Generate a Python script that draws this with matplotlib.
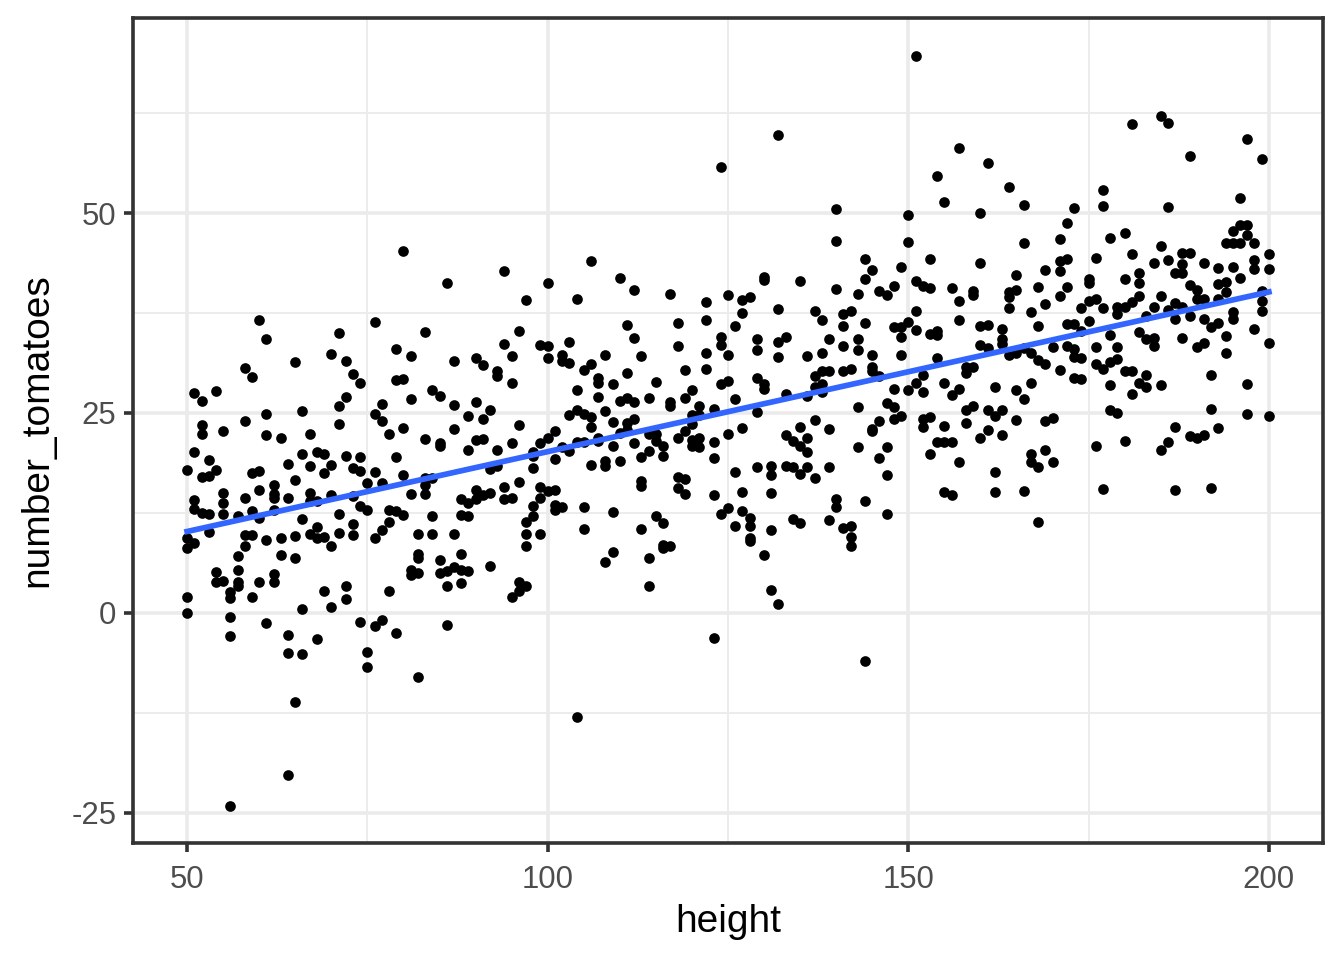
import numpy as np
import matplotlib
matplotlib.use("Agg")
import matplotlib.pyplot as plt
from matplotlib.ticker import MultipleLocator

plt.rcParams['font.family'] = ['Liberation Sans', 'DejaVu Sans']

# values
height = [
    60, 61, 71, 70, 72, 73, 74, 65, 58, 59, 51, 52, 54, 72, 71, 66, 61, 58, 52, 52,
    55, 61, 63, 67, 71, 51, 53, 66, 68, 69, 72, 50, 52, 53, 54, 59, 60, 64, 67, 70,
    69, 73, 74, 65, 62, 60, 55, 55, 51, 51, 52, 53, 55, 57, 58, 59, 62, 62, 64, 67,
    67, 68, 70, 74, 62, 60, 66, 71, 68, 73, 53, 50, 51, 58, 59, 58, 61, 63, 65, 67,
    68, 69, 70, 71, 73, 50,
    57, 63, 65, 54, 54, 55, 57, 57, 57, 56, 56, 59, 60, 62, 62, 69, 72, 72, 70, 66,
    50, 50, 56, 56, 61, 64, 64, 66, 68, 74, 65, 64, 56,
    80, 86, 94, 97, 76, 83, 96, 94, 99, 79, 81, 95, 87, 90, 91, 93, 93, 79, 80, 95,
    84, 85, 81, 77, 87, 90, 92, 76, 77, 89, 91, 96, 78, 80, 87, 83, 85, 85, 90, 91,
    89, 93, 95, 99, 98, 98, 98, 74, 76, 75, 77, 79, 80, 83, 84, 83, 81, 83, 92,
    93, 96, 94, 88, 89, 90, 90, 91, 92, 94, 95, 99, 99, 98, 98, 97, 73, 75, 78,
    79, 80, 78, 77, 84, 88, 89, 76, 82, 84, 87, 97, 99,
    97, 82, 82, 85, 88, 81, 81, 82, 85, 86, 87, 88, 89, 92, 86, 88, 78, 96, 97, 96,
    95, 76, 77, 79, 86, 75, 75, 82,
    106, 100, 110, 112, 104, 117, 122, 122, 118, 111, 112, 100, 100, 103, 102, 103, 102, 108, 113, 118,
    122, 124, 124, 106, 105, 107, 107, 109, 111, 115, 119, 122, 124, 104, 107, 110, 111, 112, 114, 117,
    117, 119, 120, 121, 123, 104, 103, 105, 106, 106, 108, 109, 111, 112, 111, 120, 121, 120, 119, 101,
    100, 102, 103, 104, 105, 107, 107, 109, 110, 112, 114, 115, 116, 116, 115, 118, 120, 121, 121, 120,
    123, 123, 101, 106, 108, 108, 110, 113, 114, 100, 101, 113, 113, 118, 119, 118, 119, 123, 101, 101,
    102, 105, 109, 115, 124,
    105, 109, 108, 113, 116, 116, 116, 117, 114, 114, 123, 104,
    132, 124, 140, 140, 144, 145, 149, 144, 148, 130, 130, 135, 140, 143, 146, 147, 125, 127, 128, 127,
    132, 137, 138, 141, 142, 141, 144, 148, 149, 126, 129, 129, 132, 133, 132, 139, 141, 143, 143, 145,
    149, 125, 136, 138, 145, 145, 141, 142, 137, 138, 139, 125, 129, 130, 130, 137, 138, 138, 146, 148,
    133, 136, 126, 129, 143, 147, 148, 148, 137, 146, 149, 127, 135, 139, 145,
    125, 126, 129, 131, 131, 133, 134, 135, 136, 136, 133, 134, 135, 136, 137, 139, 143, 145, 147, 146,
    147, 127, 131, 125, 127, 126, 128, 128, 128, 128, 131, 130, 134, 135, 139, 140, 140, 144, 147, 141,
    142, 142, 142, 131, 132, 144,
    151, 157, 161, 154, 155, 164, 166, 173, 150, 160, 172, 150, 166, 171, 153, 160, 171, 172, 171, 169,
    151, 152, 153, 156, 157, 159, 159, 165, 164, 165, 164, 164, 168, 169, 172, 171, 174, 167, 151, 150,
    149, 151, 153, 154, 154, 157, 160, 161, 163, 163, 163, 160, 161, 164, 165, 166, 167, 168, 168, 169,
    170, 171, 172, 173, 172, 173, 173, 154, 158, 158, 159, 152,
    150, 151, 152, 155, 156, 157, 162, 165, 166, 167, 173, 152, 152, 153, 155, 158, 159, 158, 161, 162,
    163, 165, 169, 170, 161, 160, 163, 154, 155, 156, 153, 157, 162, 167, 167, 168, 169, 170, 155, 156,
    162, 166, 168,
    185, 186, 181, 197, 199, 189, 177, 177, 186, 196, 178, 180, 185, 195, 196, 197, 197, 194, 195, 196,
    198, 181, 176, 188, 189, 200, 184, 186, 188, 191, 193, 195, 198, 198, 200, 182, 187, 188, 175, 175,
    180, 182, 196, 189, 190, 193, 194, 194, 199, 199, 175, 176, 177, 179, 179, 180, 181, 182, 185, 187,
    188, 190, 191, 193, 184, 186, 183, 189, 187, 191, 195, 195, 193, 192, 199, 198, 174, 175, 178, 182,
    183, 184, 184, 188, 191, 194, 200, 176, 179, 190,
    174, 176, 177, 178, 179, 180, 181, 194, 174, 178, 181, 182, 183, 183, 185, 192, 197, 178, 179, 192,
    197, 200, 187, 193, 189, 190, 191, 186, 185, 180, 176, 177, 187, 192,
]

number_tomatoes = [
    36.6, 34.2, 35.0, 32.4, 31.5, 29.9, 28.8, 31.4, 30.6, 29.5, 27.5, 26.5, 27.7, 27.0, 25.9, 25.2, 24.9, 24.0, 23.5, 22.3,
    22.7, 22.2, 21.9, 22.3, 23.6, 20.1, 19.1, 19.9, 20.1, 19.9, 19.6, 17.8, 17.0, 17.1, 17.8, 17.5, 17.7, 18.6, 18.3, 18.5,
    17.5, 18.1, 17.7, 16.6, 16.0, 15.3, 15.0, 13.7, 14.1, 13.0, 12.5, 12.4, 12.4, 12.1, 14.3, 12.7, 14.8, 14.4, 14.4, 15.0,
    14.0, 14.0, 14.7, 13.4, 12.9, 11.9, 11.7, 12.4, 10.7, 11.1, 10.1, 9.4, 8.7, 9.7, 9.7, 8.4, 9.1, 9.4, 9.6, 9.8,
    9.4, 9.5, 8.4, 10.0, 9.7, 8.1,
    7.1, 7.2, 6.8, 5.1, 3.9, 4.0, 5.4, 3.8, 3.3, 2.6, 1.8, 2.0, 3.9, 4.8, 3.8, 2.7, 3.3, 1.7, 0.7, 0.5,
    2.0, 0.0, -0.5, -2.9, -1.3, -2.8, -5.0, -5.1, -3.3, -1.1, -11.2, -20.3, -24.1,
    45.3, 41.3, 42.8, 39.1, 36.4, 35.1, 35.3, 33.6, 33.5, 33.0, 32.1, 32.1, 31.5, 31.9, 31.0, 30.2, 29.6, 29.1, 29.2, 28.8,
    27.9, 27.1, 26.7, 26.1, 26.0, 26.4, 25.4, 24.9, 24.0, 24.6, 24.2, 23.5, 22.4, 23.1, 23.0, 21.7, 21.2, 20.8, 21.6, 21.7,
    20.4, 20.4, 21.2, 21.2, 20.1, 19.6, 18.1, 19.5, 17.6, 16.2, 16.2, 19.5, 17.2, 16.9, 16.9, 16.0, 14.8, 14.9, 18.0,
    18.3, 16.3, 15.7, 14.2, 13.7, 15.4, 14.2, 14.7, 15.0, 14.2, 14.4, 15.7, 14.3, 13.3, 12.1, 11.4, 14.6, 12.8, 12.8,
    12.7, 12.2, 11.3, 10.3, 12.1, 12.2, 12.1, 9.4, 9.8, 9.8, 9.8, 9.9, 9.9,
    8.3, 7.3, 6.9, 6.6, 7.4, 5.3, 4.7, 5.0, 5.0, 5.2, 5.7, 5.3, 5.2, 5.9, 3.4, 3.7, 2.7, 3.9, 3.4, 2.7,
    2.0, -1.7, -0.9, -2.5, -1.5, -4.9, -6.8, -8.0,
    44.0, 41.2, 41.9, 40.4, 39.3, 39.9, 38.9, 36.6, 36.2, 36.0, 34.4, 33.4, 31.9, 33.9, 32.3, 31.2, 31.5, 32.2, 32.1, 33.4,
    32.5, 34.5, 33.5, 31.1, 30.4, 29.4, 28.8, 28.6, 30.0, 28.9, 30.4, 30.5, 28.6, 27.9, 27.0, 26.5, 26.9, 26.4, 26.9, 26.4,
    25.9, 26.9, 27.9, 25.9, 25.5, 25.4, 24.7, 24.9, 24.5, 23.2, 25.2, 23.9, 23.8, 24.3, 22.9, 24.8, 24.8, 23.6, 22.8, 22.7,
    21.9, 20.7, 20.2, 21.3, 21.3, 21.9, 21.5, 20.9, 22.5, 21.2, 22.4, 21.5, 20.8, 19.6, 22.4, 21.8, 21.6, 21.8, 20.7, 20.8,
    21.3, 19.3, 19.2, 18.5, 19.0, 18.3, 19.0, 19.5, 20.2, 15.2, 15.4, 16.5, 15.8, 17.0, 16.7, 15.6, 14.8, 14.7, 13.5, 12.8,
    13.2, 13.2, 12.6, 12.1, 12.4,
    10.5, 7.6, 6.3, 10.5, 11.2, 8.5, 8.1, 8.4, 6.8, 3.4, -3.1, -13.0,
    59.8, 55.8, 50.5, 46.5, 44.2, 42.9, 43.2, 41.7, 40.9, 42.0, 41.6, 41.5, 40.5, 39.9, 40.2, 39.7, 39.8, 39.1, 39.5, 37.5,
    38.0, 37.8, 36.6, 37.4, 37.8, 35.9, 36.2, 35.7, 34.5, 35.9, 34.3, 32.9, 33.9, 34.5, 32.0, 34.3, 33.4, 34.3, 32.9, 32.3,
    32.3, 32.2, 32.1, 32.5, 30.7, 30.3, 30.2, 30.5, 29.6, 30.2, 30.3, 29.0, 29.4, 28.6, 28.0, 28.2, 28.6, 27.6, 29.6, 28.0,
    27.4, 27.1, 26.8, 25.1, 25.8, 26.3, 25.8, 24.2, 24.1, 24.0, 24.6, 23.1, 23.3, 23.0, 23.0,
    22.4, 17.6, 18.2, 18.4, 17.2, 22.2, 21.5, 20.9, 21.8, 20.1, 18.3, 18.2, 17.4, 18.2, 16.8, 18.2, 20.7, 22.7, 20.7, 19.4,
    17.2, 15.1, 15.0, 13.1, 12.7, 10.9, 11.9, 10.9, 9.4, 9.0, 10.4, 7.2, 11.7, 11.2, 11.6, 14.2, 13.2, 14.0, 12.3, 10.6,
    10.8, 9.5, 8.4, 2.9, 1.1, -6.0,
    69.7, 58.1, 56.3, 54.6, 51.4, 53.2, 51.0, 50.6, 49.7, 50.0, 48.8, 46.4, 46.2, 46.7, 44.2, 43.8, 44.0, 44.2, 42.7, 42.9,
    41.5, 40.9, 40.6, 40.6, 39.0, 40.3, 39.8, 42.3, 40.1, 40.4, 39.5, 38.1, 40.8, 38.6, 40.7, 39.6, 38.1, 37.6, 37.8, 36.4,
    35.8, 35.4, 34.9, 35.2, 34.8, 36.6, 35.9, 36.0, 35.5, 34.2, 33.6, 33.5, 33.1, 32.3, 32.5, 33.1, 32.5, 35.9, 31.6, 31.1,
    33.2, 30.4, 36.1, 36.1, 33.4, 33.0, 32.0, 31.9, 30.7, 30.0, 30.7, 29.8,
    27.9, 28.7, 27.6, 28.8, 27.3, 28.0, 28.2, 27.9, 26.7, 28.8, 29.4, 24.3, 23.3, 24.5, 23.4, 25.4, 25.9, 23.8, 25.4, 24.6,
    25.4, 24.1, 24.0, 24.4, 22.9, 21.8, 22.2, 21.3, 21.3, 21.3, 19.8, 18.8, 17.6, 19.9, 18.9, 18.2, 20.3, 18.8, 15.1, 14.7,
    15.1, 15.2, 11.3,
    62.1, 61.2, 61.1, 59.3, 56.8, 57.1, 52.9, 50.9, 50.7, 51.9, 46.9, 47.5, 45.9, 47.8, 48.5, 48.5, 47.2, 46.2, 46.2, 46.2,
    46.2, 44.9, 44.4, 45.0, 45.0, 44.9, 43.7, 44.1, 43.6, 43.7, 43.1, 43.3, 44.1, 43.0, 43.0, 42.5, 42.5, 42.5, 41.7, 41.2,
    41.7, 41.2, 41.9, 41.0, 40.4, 41.1, 41.4, 40.1, 40.3, 39.0, 39.0, 39.2, 38.1, 38.2, 37.4, 38.2, 38.9, 39.6, 39.6, 38.7,
    38.3, 39.3, 39.3, 39.3, 38.2, 37.9, 37.1, 37.1, 36.7, 36.7, 37.6, 36.8, 36.2, 35.7, 37.7, 35.5, 35.3, 36.5, 34.7, 35.1,
    34.3, 34.4, 33.4, 34.4, 33.8, 34.6, 33.8, 33.2, 33.2, 33.2,
    31.9, 31.1, 30.5, 31.4, 31.7, 30.2, 30.3, 32.5, 29.2, 28.5, 27.4, 28.8, 29.7, 28.2, 28.5, 29.7, 28.6, 25.4, 25.0, 25.5,
    24.9, 24.6, 23.3, 23.1, 22.1, 21.9, 22.2, 21.3, 20.3, 21.5, 20.9, 15.5, 15.3, 15.6,
]

x_breaks = [50, 100, 150, 200]
y_breaks = [-25, 0, 25, 50]

n = min(len(height), len(number_tomatoes))
x = np.array(height[:n], dtype=float)
y = np.array(number_tomatoes[:n], dtype=float)

fig = plt.figure(figsize=(7, 5), dpi=192)
ax = fig.add_axes([133 / 1344, 1 - 843 / 960, (1323 - 133) / 1344, (843 - 18) / 960])

grid_col = '#EBEBEB'
ax.set_axisbelow(True)
ax.xaxis.set_major_locator(MultipleLocator(50))
ax.xaxis.set_minor_locator(MultipleLocator(25))
ax.yaxis.set_major_locator(MultipleLocator(25))
ax.yaxis.set_minor_locator(MultipleLocator(12.5))
ax.grid(which='major', color=grid_col, linewidth=1.36)
ax.grid(which='minor', color=grid_col, linewidth=0.68)

ax.scatter(x, y, s=16, color='black', linewidths=0, zorder=3)

# linear fit like geom_smooth(method = "lm", se = FALSE)
slope, intercept = np.polyfit(x, y, 1)
xs = np.linspace(x.min(), x.max(), 100)
ax.plot(xs, intercept + slope * xs, color='#3366FF', linewidth=2.13, zorder=4)

xr = x.max() - x.min()
yr = y.max() - y.min()
ax.set_xlim(x.min() - 0.05 * xr, x.max() + 0.05 * xr)
ax.set_ylim(y.min() - 0.05 * yr, y.max() + 0.05 * yr)

ax.set_xticks(x_breaks)
ax.set_yticks(y_breaks)
ax.set_xticklabels([str(v) for v in x_breaks])
ax.set_yticklabels([str(v) for v in y_breaks])

for sp in ax.spines.values():
    sp.set_color('#333333')
    sp.set_linewidth(1.36)
ax.tick_params(which='major', length=3.5, width=1.36, color='#333333',
               labelcolor='#4D4D4D', labelsize=11.7)
ax.tick_params(axis='x', which='major', pad=4.6)
ax.tick_params(axis='y', which='major', pad=2.8)
ax.tick_params(which='minor', length=0)

ax.set_xlabel('height', fontsize=14.6, color='black', labelpad=3.5)
ax.set_ylabel('number_tomatoes', fontsize=14.6, color='black', labelpad=6.0)

fig.savefig('out.png', dpi=192)
